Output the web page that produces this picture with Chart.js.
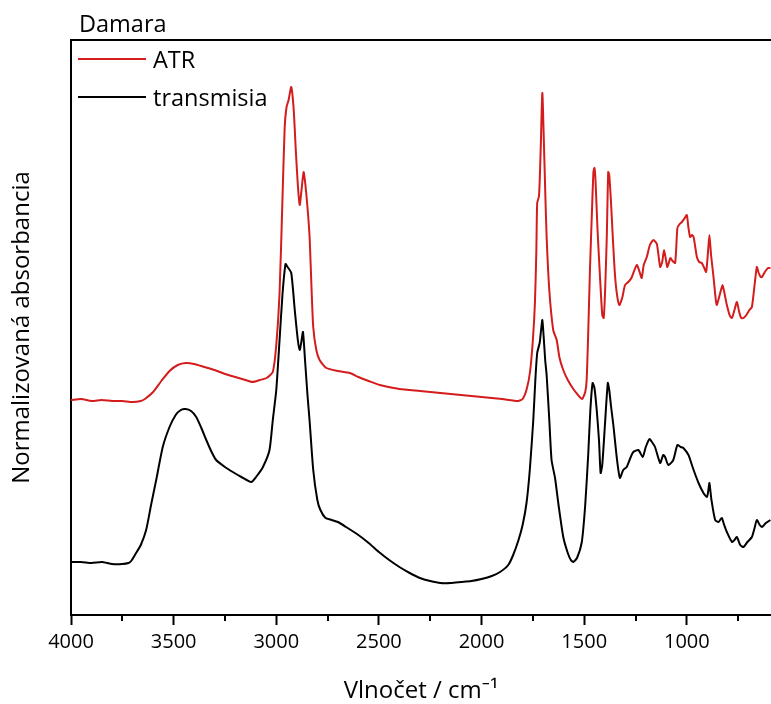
<!DOCTYPE html>
<html>
<head>
<meta charset="utf-8">
<script src="https://cdn.jsdelivr.net/npm/chart.js@4/dist/chart.umd.min.js"></script>
<style>
  html, body { margin: 0; padding: 0; background: #fff; }
  #wrap { width: 771px; height: 704px; }
</style>
</head>
<body>
<div id="wrap"><canvas id="myChart" width="771" height="704"></canvas></div>
<script>
// spectra (wavenumber / cm-1, normalised absorbance)
var atrWavenumber = [4000, 3950, 3900, 3850, 3800, 3750, 3700, 3660, 3640, 3600, 3560, 3520, 3480, 3440, 3400, 3350, 3300, 3250, 3200, 3150,
  3115, 3080, 3047, 3017, 3000, 2984, 2970, 2959, 2950, 2940, 2927, 2915, 2905, 2895, 2886, 2877, 2867, 2858, 2845, 2837,
  2828, 2820, 2805, 2789, 2756, 2700, 2642, 2600, 2550, 2496, 2400, 2300, 2200, 2100, 2000, 1900, 1822, 1800, 1780, 1764,
  1750, 1740, 1733, 1729, 1720, 1712, 1704, 1698, 1690, 1683, 1670, 1651, 1634, 1620, 1602, 1580, 1553, 1530, 1510, 1495,
  1488, 1480, 1472, 1462, 1455, 1450, 1445, 1435, 1423, 1412, 1405, 1398, 1390, 1383, 1378, 1370, 1360, 1350, 1340, 1329,
  1315, 1301, 1285, 1270, 1244, 1230, 1220, 1210, 1195, 1180, 1163, 1146, 1130, 1120, 1111, 1100, 1095, 1080, 1073, 1057,
  1046, 1035, 1024, 1010, 1000, 992, 984, 975, 967, 951, 940, 927, 915, 906, 898, 890, 882, 870, 860, 854,
  840, 826, 815, 805, 790, 780, 768, 756, 745, 735, 724, 710, 695, 683, 670, 659, 650, 640, 634, 620,
  605, 593];
var atrAbsorbance = [0.860, 0.864, 0.856, 0.860, 0.856, 0.856, 0.852, 0.856, 0.864, 0.892, 0.936, 0.976, 1.000, 1.008, 1.004, 0.992, 0.980, 0.964, 0.952, 0.940,
  0.932, 0.940, 0.948, 0.972, 1.080, 1.288, 1.660, 1.952, 2.032, 2.060, 2.112, 2.020, 1.860, 1.720, 1.640, 1.700, 1.772, 1.720, 1.600, 1.500,
  1.300, 1.152, 1.060, 1.020, 0.988, 0.976, 0.968, 0.952, 0.936, 0.920, 0.904, 0.896, 0.888, 0.880, 0.872, 0.864, 0.856, 0.864, 0.904, 0.972,
  1.100, 1.248, 1.460, 1.648, 1.676, 1.860, 2.088, 1.940, 1.700, 1.512, 1.300, 1.140, 1.100, 1.028, 0.980, 0.940, 0.904, 0.880, 0.864, 0.892,
  0.940, 1.140, 1.380, 1.620, 1.772, 1.788, 1.740, 1.540, 1.352, 1.200, 1.188, 1.300, 1.512, 1.772, 1.760, 1.660, 1.500, 1.360, 1.280, 1.240,
  1.268, 1.320, 1.332, 1.348, 1.400, 1.372, 1.348, 1.400, 1.432, 1.480, 1.500, 1.484, 1.392, 1.412, 1.460, 1.412, 1.392, 1.428, 1.420, 1.408,
  1.548, 1.564, 1.572, 1.588, 1.600, 1.548, 1.512, 1.520, 1.512, 1.432, 1.412, 1.408, 1.388, 1.372, 1.440, 1.520, 1.440, 1.352, 1.268, 1.240,
  1.280, 1.320, 1.280, 1.240, 1.196, 1.188, 1.220, 1.252, 1.212, 1.188, 1.188, 1.200, 1.220, 1.232, 1.320, 1.392, 1.368, 1.352, 1.352, 1.372,
  1.388, 1.388];

var transWavenumber = [4000, 3950, 3900, 3850, 3800, 3750, 3720, 3707, 3683, 3660, 3634, 3610, 3585, 3553, 3520, 3490, 3465, 3442, 3415, 3390,
  3365, 3341, 3315, 3293, 3250, 3212, 3170, 3122, 3095, 3065, 3033, 3017, 3000, 2984, 2970, 2955, 2945, 2927, 2910, 2895,
  2886, 2878, 2870, 2860, 2848, 2838, 2820, 2800, 2785, 2760, 2730, 2700, 2660, 2600, 2550, 2500, 2450, 2400, 2350, 2300,
  2250, 2200, 2150, 2100, 2050, 2000, 1950, 1910, 1870, 1846, 1820, 1800, 1781, 1765, 1748, 1738, 1729, 1717, 1710, 1704,
  1698, 1690, 1683, 1670, 1659, 1642, 1625, 1602, 1580, 1565, 1553, 1535, 1512, 1495, 1480, 1470, 1459, 1450, 1439, 1428,
  1420, 1412, 1399, 1385, 1378, 1370, 1358, 1340, 1326, 1310, 1293, 1275, 1261, 1236, 1215, 1200, 1182, 1170, 1155, 1130,
  1115, 1106, 1090, 1066, 1046, 1030, 1017, 992, 980, 967, 943, 919, 902, 895, 890, 880, 862, 845, 830, 818,
  805, 780, 768, 756, 740, 724, 705, 683, 670, 659, 645, 634, 615, 593];
var transAbsorbance = [0.212, 0.212, 0.208, 0.212, 0.204, 0.204, 0.208, 0.216, 0.248, 0.280, 0.340, 0.440, 0.540, 0.672, 0.752, 0.800, 0.820, 0.824, 0.816, 0.792,
  0.748, 0.700, 0.652, 0.620, 0.592, 0.572, 0.552, 0.532, 0.556, 0.592, 0.660, 0.780, 0.900, 1.100, 1.280, 1.404, 1.392, 1.368, 1.220, 1.100,
  1.060, 1.092, 1.132, 1.020, 0.880, 0.780, 0.580, 0.460, 0.420, 0.388, 0.380, 0.372, 0.352, 0.320, 0.288, 0.252, 0.220, 0.192, 0.168, 0.148,
  0.136, 0.128, 0.128, 0.132, 0.136, 0.144, 0.156, 0.172, 0.200, 0.240, 0.300, 0.360, 0.448, 0.580, 0.780, 0.940, 1.048, 1.088, 1.140, 1.180,
  1.120, 1.020, 0.960, 0.780, 0.620, 0.548, 0.440, 0.312, 0.248, 0.220, 0.212, 0.228, 0.290, 0.440, 0.648, 0.820, 0.928, 0.908, 0.820, 0.700,
  0.568, 0.600, 0.760, 0.928, 0.900, 0.840, 0.760, 0.620, 0.548, 0.580, 0.592, 0.628, 0.652, 0.660, 0.632, 0.672, 0.704, 0.692, 0.672, 0.608,
  0.640, 0.632, 0.600, 0.620, 0.680, 0.672, 0.668, 0.640, 0.612, 0.580, 0.528, 0.488, 0.472, 0.500, 0.528, 0.460, 0.380, 0.372, 0.388, 0.360,
  0.332, 0.292, 0.300, 0.312, 0.280, 0.272, 0.292, 0.312, 0.348, 0.380, 0.360, 0.352, 0.368, 0.380];

var majorTicks = [4000, 3500, 3000, 2500, 2000, 1500, 1000];
var minorTicks = [3750, 3250, 2750, 2250, 1750, 1250, 750];

var fontFamily = "'Open Sans', 'Noto Sans', sans-serif";

function toPoints(xs, ys) {
  var pts = [];
  for (var i = 0; i < xs.length; i++) {
    pts.push({ x: xs[i], y: ys[i] });
  }
  return pts;
}

// title, legend, top frame line and the short minor ticks
var extras = {
  id: 'extras',
  afterDraw: function (chart) {
    var ctx = chart.ctx;
    var area = chart.chartArea;
    var xScale = chart.scales.x;
    ctx.save();
    ctx.strokeStyle = '#000';
    ctx.lineWidth = 2;
    ctx.beginPath();
    ctx.moveTo(area.left - 1, area.top);
    ctx.lineTo(area.right + 2, area.top);
    minorTicks.forEach(function (v) {
      var px = Math.round(xScale.getPixelForValue(v));
      ctx.moveTo(px, area.bottom);
      ctx.lineTo(px, area.bottom + 6);
    });
    ctx.stroke();

    ctx.fillStyle = '#000';
    ctx.textBaseline = 'alphabetic';
    ctx.font = '23.5px ' + fontFamily;
    ctx.fillText('Damara', area.left + 8, area.top - 8);

    chart.data.datasets.forEach(function (ds, i) {
      var y = area.top + 19 + i * 38;
      ctx.strokeStyle = ds.borderColor;
      ctx.lineWidth = ds.borderWidth;
      ctx.beginPath();
      ctx.moveTo(area.left + 7, y);
      ctx.lineTo(area.left + 75, y);
      ctx.stroke();
      ctx.fillStyle = '#000';
      ctx.font = '23.5px ' + fontFamily;
      ctx.fillText(ds.label, area.left + 82, y + 9);
    });
    ctx.restore();
  }
};

var ctx = document.getElementById('myChart').getContext('2d');
var chart = new Chart(ctx, {
  type: 'line',
  data: {
    datasets: [{
        label: 'ATR',
        data: toPoints(atrWavenumber, atrAbsorbance),
        borderColor: '#d41c1c',
        borderWidth: 2,
        pointRadius: 0,
        tension: 0.2,
        fill: false
      },
      {
        label: 'transmisia',
        data: toPoints(transWavenumber, transAbsorbance),
        borderColor: '#000000',
        borderWidth: 2,
        pointRadius: 0,
        tension: 0.2,
        fill: false
      }
    ]
  },
  options: {
    responsive: false,
    animation: false,
    layout: { padding: { top: 40, right: 0, bottom: 0, left: 0 } },
    plugins: {
      legend: { display: false },
      title: { display: false },
      tooltip: { enabled: false }
    },
    scales: {
      x: {
        type: 'linear',
        reverse: true,
        min: 590,
        max: 4000,
        afterBuildTicks: function (scale) {
          scale.ticks = majorTicks.map(function (v) { return { value: v }; });
        },
        afterFit: function (scale) { scale.height = 89; },
        ticks: {
          autoSkip: false,
          maxRotation: 0,
          padding: 5,
          color: '#000',
          font: { family: fontFamily, size: 20 },
          callback: function (v) { return String(v); }
        },
        grid: { drawOnChartArea: false, tickLength: 10, tickWidth: 2, tickColor: '#000' },
        border: { display: true, color: '#000', width: 2 },
        title: {
          display: true,
          text: 'Vlnočet / cm⁻¹',
          color: '#000',
          font: { family: fontFamily, size: 24, lineHeight: 1 },
          padding: { top: 0, bottom: 1 }
        }
      },
      y: {
        min: 0,
        max: 2.3,
        afterFit: function (scale) { scale.width = 71; },
        ticks: { display: false },
        grid: { display: false },
        border: { display: true, color: '#000', width: 2 },
        title: {
          display: true,
          text: 'Normalizovaná absorbancia',
          color: '#000',
          font: { family: fontFamily, size: 24, lineHeight: 1 },
          padding: { top: 10, bottom: 0 }
        }
      }
    }
  },
  plugins: [extras]
});
</script>
</body>
</html>
